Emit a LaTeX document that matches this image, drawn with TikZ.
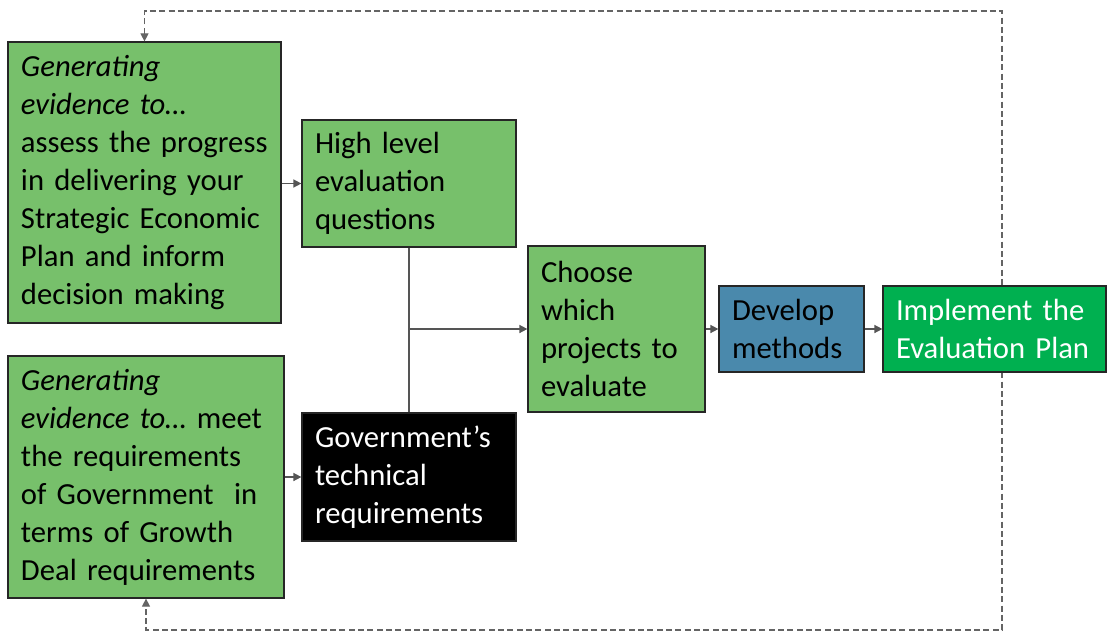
\documentclass[tikz,border=0pt]{standalone}
\usepackage{fontspec}
\setmainfont{Carlito}
\usetikzlibrary{arrows.meta}
\definecolor{boxgreen}{RGB}{119,192,107}
\definecolor{boxblue}{RGB}{74,137,172}
\definecolor{brightgreen}{RGB}{0,176,80}
\definecolor{boxborder}{RGB}{38,38,38}
\definecolor{connector}{RGB}{85,85,85}
\definecolor{loopgray}{RGB}{100,100,100}
\begin{document}
\begin{tikzpicture}[x=0.75pt,y=-0.75pt,
  box/.style={draw=boxborder, line width=0.9pt, rectangle, align=left,
    inner xsep=9.75pt, inner ysep=0pt, anchor=center,
    font=\fontsize{23}{28.5}\selectfont},
  conn/.style={draw=connector, line width=1.1pt, -{Triangle[length=6pt,width=6pt]}},
  plainline/.style={draw=connector, line width=1.1pt},
  loopline/.style={draw=loopgray, line width=0.8pt, dash pattern=on 4.5pt off 2.5pt,
    {Triangle[length=6pt,width=6pt]}-{Triangle[length=6pt,width=6pt]}}
]
\useasboundingbox (0,0) rectangle (1118,632);

\coordinate (tr) at (1002,11);
\coordinate (br) at (1002,630);

\node[box, fill=boxgreen, text width=185.25pt, minimum height=210.75pt] (b1) at (144.5,182.5)
  {\textit{Generating}\\ \textit{evidence to…}\\ assess the progress\\ in delivering your\\ Strategic Economic\\ Plan and inform\\ decision making};
\node[box, fill=boxgreen, text width=187.5pt, minimum height=181.5pt] (b2) at (146,477)
  {\textit{Generating}\\ \textit{evidence to…} meet\\ the requirements\\ of Government\ \ in\\ terms of Growth\\ Deal requirements};
\node[box, fill=boxgreen, text width=141pt, minimum height=95.25pt] (hl) at (409,183.5)
  {High level\\ evaluation\\ questions};
\node[box, fill=black, text=white, text width=141pt, minimum height=96pt] (gov) at (409,477)
  {Government’s\\ technical\\ requirements};
\node[box, fill=boxgreen, text width=113.25pt, minimum height=124.5pt] (ch) at (616.5,329)
  {Choose\\ which\\ projects to\\ evaluate};

\draw[loopline] (b1.north) -- (b1.north |- tr) -- (tr) -- (br) -- (b2.south |- br) -- (b2.south);

\node[box, fill=boxblue, text width=89.25pt, minimum height=64.5pt] (dev) at (791.5,329)
  {Develop\\ methods};
\node[box, fill=brightgreen, text=white, text width=147.75pt, minimum height=64.5pt] (impl) at (994.5,329)
  {Implement the\\ Evaluation Plan};

\draw[conn] (b1.east |- hl.west) -- (hl.west);
\draw[conn] (b2.east |- gov.west) -- (gov.west);
\draw[plainline] (hl.south) -- (gov.north);
\coordinate (j) at (hl.south |- ch.west);
\draw[conn] (j) -- (ch.west);
\draw[conn] (ch.east) -- (dev.west);
\draw[conn] (dev.east) -- (impl.west);
\end{tikzpicture}
\end{document}
